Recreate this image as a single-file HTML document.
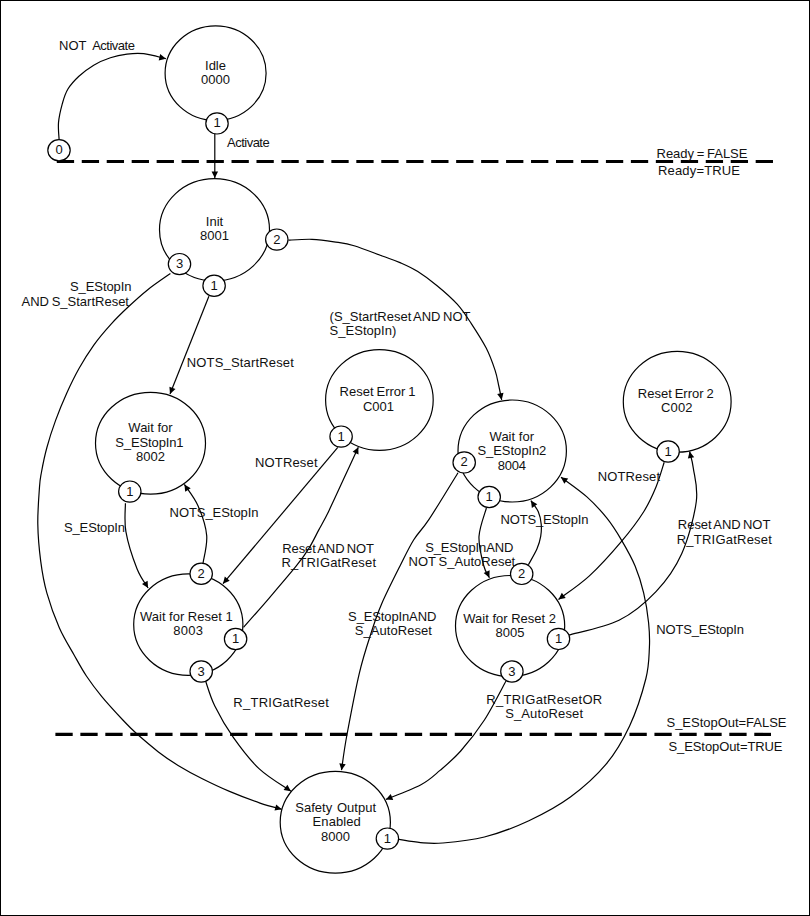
<!DOCTYPE html>
<html><head><meta charset="utf-8"><title>State diagram</title>
<style>
html,body{margin:0;padding:0;background:#fff;}
body{width:810px;height:916px;overflow:hidden;}
svg{display:block;}
text{font-family:"Liberation Sans",sans-serif;font-size:13px;fill:#111;}
.ln{fill:none;stroke:#000;stroke-width:1.2;}
.el{fill:#fff;stroke:#000;stroke-width:1.2;}
.ah{fill:#000;stroke:none;}
.dash{fill:none;stroke:#000;stroke-width:3.2;stroke-dasharray:17.3 7.66;}
</style></head><body>
<svg width="810" height="916" viewBox="0 0 810 916">
<rect x="0.5" y="0.5" width="809" height="915" fill="#fff" stroke="#000" stroke-width="1"/>
<ellipse class="el" cx="215.6" cy="73.2" rx="50.5" ry="47.3"/>
<ellipse class="el" cx="214.5" cy="229.7" rx="55.0" ry="51.1"/>
<ellipse class="el" cx="150.5" cy="443.2" rx="55.0" ry="50.9"/>
<ellipse class="el" cx="379.4" cy="400.0" rx="53.8" ry="50.3"/>
<ellipse class="el" cx="512.2" cy="451.0" rx="54.2" ry="51.0"/>
<ellipse class="el" cx="677.2" cy="401.8" rx="53.9" ry="50.4"/>
<ellipse class="el" cx="188.3" cy="624.6" rx="54.6" ry="50.7"/>
<ellipse class="el" cx="510.1" cy="626.0" rx="54.6" ry="50.5"/>
<ellipse class="el" cx="335.3" cy="822.3" rx="55.1" ry="50.9"/>
<path class="ln" d="M59.1,139.5 C59.0,136.7 58.0,128.5 58.5,122.6 C59.0,116.7 60.7,109.6 62.2,104.1 C63.8,98.5 65.0,93.9 67.8,89.3 C70.6,84.7 74.6,80.3 78.9,76.3 C83.2,72.3 88.5,68.3 93.7,65.2 C99.0,62.1 104.9,59.6 110.4,57.8 C116.0,55.9 121.5,54.8 127.0,54.1 C132.6,53.4 137.2,52.9 143.7,53.7 C150.2,54.5 162.2,57.9 165.9,58.7"/>
<path class="ah" d="M165.9,58.7 L158.7,60.4 L160.2,54.1 Z"/>
<path class="ln" d="M214.8,134.0 L214.8,178.0"/>
<path class="ah" d="M214.8,178.0 L211.6,171.4 L218.1,171.4 Z"/>
<path class="ln" d="M208.9,296.2 L170.0,394.0"/>
<path class="ah" d="M170.0,394.0 L169.4,386.7 L175.5,389.1 Z"/>
<path class="ln" d="M170.4,273.5 C166.7,276.2 155.1,283.9 148.1,289.5 C141.1,295.1 134.6,301.0 128.4,306.8 C122.2,312.6 116.9,317.7 111.1,324.1 C105.3,330.5 99.1,337.7 93.8,345.1 C88.5,352.5 83.5,360.5 79.0,368.5 C74.5,376.5 70.6,384.6 66.7,393.2 C62.8,401.8 58.9,411.3 55.6,420.4 C52.3,429.4 49.2,438.9 46.9,447.5 C44.5,456.1 42.7,465.4 41.5,472.0 C40.3,478.6 40.1,478.3 39.5,487.0 C38.9,495.7 37.6,511.8 37.8,524.1 C38.0,536.5 39.2,549.6 40.7,561.1 C42.2,572.6 43.8,582.1 46.9,593.2 C50.0,604.3 54.8,617.5 59.3,627.8 C63.8,638.1 69.6,647.0 74.1,655.0 C78.6,663.0 81.8,669.1 86.4,676.0 C91.0,682.9 95.4,688.8 101.6,696.3 C107.8,703.8 118.0,714.8 123.8,721.0 C129.6,727.2 130.4,728.1 136.2,733.3 C142.0,738.4 151.4,746.5 158.4,751.9 C165.4,757.2 170.7,760.9 178.1,765.4 C185.5,769.9 194.2,774.7 202.8,779.0 C211.4,783.3 220.0,787.4 229.5,791.4 C239.0,795.4 251.3,800.1 260.0,803.1 C268.7,806.1 278.1,808.3 281.7,809.3"/>
<path class="ah" d="M281.7,809.3 L274.5,810.6 L276.2,804.4 Z"/>
<path class="ln" d="M288.4,240.2 C292.3,240.0 304.4,239.0 312.0,239.3 C319.6,239.6 327.0,240.7 334.0,241.8 C341.0,242.9 346.1,243.3 354.1,245.7 C362.1,248.1 374.6,253.2 382.2,256.0 C389.8,258.8 394.1,260.0 400.0,262.6 C405.9,265.2 411.6,267.6 417.8,271.5 C424.0,275.4 430.5,280.2 437.1,285.7 C443.7,291.1 451.5,297.9 457.2,304.2 C462.9,310.5 466.5,316.3 471.3,323.6 C476.1,330.9 482.2,340.3 486.2,348.1 C490.2,355.9 493.0,364.1 495.1,370.4 C497.2,376.7 497.7,381.1 498.8,386.0 C499.9,390.9 501.2,397.6 501.7,399.9"/>
<path class="ah" d="M501.7,399.9 L497.2,394.1 L503.5,392.8 Z"/>
<path class="ln" d="M125.4,503.3 C125.5,508.0 124.0,520.8 125.9,531.7 C127.8,542.6 133.3,559.4 137.0,568.8 C140.7,578.2 146.2,584.8 148.1,588.0"/>
<path class="ah" d="M148.1,588.0 L142.0,583.9 L147.6,580.7 Z"/>
<path class="ln" d="M203.0,563.3 C203.6,558.7 207.5,545.2 206.7,535.6 C205.9,526.0 201.8,514.4 198.1,505.9 C194.4,497.4 186.7,488.0 184.4,484.4"/>
<path class="ah" d="M184.4,484.4 L190.7,488.2 L185.2,491.7 Z"/>
<path class="ln" d="M337.8,447.4 L223.0,583.7"/>
<path class="ah" d="M223.0,583.7 L224.8,576.6 L229.7,580.7 Z"/>
<path class="ln" d="M243.5,627.4 C247.8,622.5 260.6,608.1 269.4,597.8 C278.2,587.5 289.9,573.9 296.5,565.7 C303.1,557.5 305.2,554.4 308.9,548.4 C312.6,542.4 315.5,536.1 318.8,529.9 C322.1,523.7 324.5,519.8 328.6,511.4 C332.7,503.0 338.6,490.0 343.5,479.3 C348.4,468.6 355.8,452.6 358.3,447.2"/>
<path class="ah" d="M358.3,447.2 L358.5,454.6 L352.6,451.8 Z"/>
<path class="ln" d="M458.0,472.7 C453.2,480.5 436.4,508.2 429.0,519.4 C421.6,530.6 418.4,532.2 413.6,540.0 C408.8,547.8 405.4,555.3 400.0,566.0 C394.6,576.7 386.2,593.3 381.5,604.2 C376.8,615.1 375.3,619.9 371.6,631.4 C367.9,642.9 363.4,656.0 359.3,673.3 C355.2,690.6 349.9,718.9 346.9,735.0 C343.9,751.1 342.4,764.3 341.5,770.2"/>
<path class="ah" d="M341.5,770.2 L339.3,763.2 L345.7,764.2 Z"/>
<path class="ln" d="M205.6,681.0 C207.1,685.2 210.2,696.6 214.8,706.0 C219.4,715.4 225.9,726.9 233.3,737.4 C240.7,747.9 249.7,759.9 259.3,768.9 C268.9,777.9 285.6,787.5 290.9,791.2"/>
<path class="ah" d="M290.9,791.2 L283.6,790.0 L287.4,784.7 Z"/>
<path class="ln" d="M486.4,508.0 C485.2,512.7 479.5,526.9 479.0,536.4 C478.5,545.9 481.8,558.1 483.5,565.0 C485.2,571.9 488.4,575.6 489.4,577.7"/>
<path class="ah" d="M489.4,577.7 L483.7,573.1 L489.6,570.3 Z"/>
<path class="ln" d="M528.4,564.8 C529.8,562.1 535.0,553.5 537.0,548.8 C539.0,544.1 540.0,540.5 540.7,536.4 C541.4,532.3 541.6,528.2 541.2,524.1 C540.8,520.0 540.0,515.6 538.3,511.7 C536.6,507.8 532.1,502.5 530.9,500.6"/>
<path class="ah" d="M530.9,500.6 L537.3,504.3 L531.9,507.9 Z"/>
<path class="ln" d="M664.2,462.3 C662.8,466.4 659.4,478.8 656.0,487.0 C652.6,495.2 649.5,502.6 643.7,511.7 C638.0,520.8 630.5,530.7 621.5,541.4 C612.5,552.1 599.9,566.2 589.4,575.9 C578.9,585.6 563.6,595.5 558.5,599.4"/>
<path class="ah" d="M558.5,599.4 L561.8,592.8 L565.7,598.0 Z"/>
<path class="ln" d="M568.5,635.2 C576.9,632.7 604.4,627.6 619.0,620.3 C633.6,613.0 645.5,602.7 656.0,591.6 C666.5,580.5 675.0,568.7 681.7,553.7 C688.4,538.7 694.4,515.8 696.3,501.5 C698.2,487.2 694.4,476.4 693.3,468.1 C692.2,459.8 690.2,454.3 689.6,451.5"/>
<path class="ah" d="M689.6,451.5 L694.2,457.2 L687.9,458.6 Z"/>
<path class="ln" d="M398.8,839.4 C402.4,839.9 413.2,842.0 420.5,842.6 C427.8,843.2 432.1,843.9 442.7,843.0 C453.3,842.1 470.0,840.7 484.4,837.0 C498.8,833.3 514.6,827.4 528.9,820.7 C543.2,814.0 557.6,806.4 570.4,797.0 C583.2,787.6 596.0,776.2 605.9,764.4 C615.8,752.5 622.9,740.2 629.6,725.9 C636.3,711.6 642.6,691.6 645.9,678.5 C649.2,665.4 648.9,656.8 649.4,647.5 C649.9,638.2 649.5,631.8 648.6,622.8 C647.7,613.8 646.0,602.7 643.7,593.2 C641.5,583.7 638.8,574.9 635.1,566.0 C631.4,557.1 626.2,548.1 621.5,540.1 C616.8,532.1 612.5,525.1 606.7,517.9 C600.9,510.7 594.5,503.7 586.9,496.9 C579.3,490.1 565.3,480.5 561.0,477.2"/>
<path class="ah" d="M561.0,477.2 L568.2,478.6 L564.3,483.8 Z"/>
<path class="ln" d="M506.0,681.0 C502.4,687.5 491.9,708.3 484.4,720.0 C476.8,731.7 468.1,742.6 460.7,751.0 C453.3,759.4 446.7,764.7 440.0,770.4 C433.3,776.1 429.5,780.2 420.5,785.0 C411.5,789.8 391.7,797.0 385.9,799.4"/>
<path class="ah" d="M385.9,799.4 L390.7,793.9 L393.2,799.9 Z"/>
<path class="dash" d="M56.8,161.5 H773.2"/>
<path class="dash" d="M55.4,734.4 H771"/>
<ellipse class="el" cx="59.0" cy="150.3" rx="11.2" ry="10.6"/>
<text x="59.0" y="154.3" text-anchor="middle">0</text>
<ellipse class="el" cx="217.0" cy="123.4" rx="11.2" ry="10.6"/>
<text x="217.0" y="127.4" text-anchor="middle">1</text>
<ellipse class="el" cx="214.1" cy="285.8" rx="11.2" ry="10.6"/>
<text x="214.1" y="289.8" text-anchor="middle">1</text>
<ellipse class="el" cx="276.8" cy="239.6" rx="11.2" ry="10.6"/>
<text x="276.8" y="243.6" text-anchor="middle">2</text>
<ellipse class="el" cx="179.5" cy="264.1" rx="11.2" ry="10.6"/>
<text x="179.5" y="268.1" text-anchor="middle">3</text>
<ellipse class="el" cx="129.8" cy="491.6" rx="11.2" ry="10.6"/>
<text x="129.8" y="495.6" text-anchor="middle">1</text>
<ellipse class="el" cx="341.1" cy="436.6" rx="11.2" ry="10.6"/>
<text x="341.1" y="440.6" text-anchor="middle">1</text>
<ellipse class="el" cx="464.2" cy="462.4" rx="11.2" ry="10.6"/>
<text x="464.2" y="466.4" text-anchor="middle">2</text>
<ellipse class="el" cx="489.2" cy="497.0" rx="11.2" ry="10.6"/>
<text x="489.2" y="501.0" text-anchor="middle">1</text>
<ellipse class="el" cx="668.1" cy="451.5" rx="11.2" ry="10.6"/>
<text x="668.1" y="455.5" text-anchor="middle">1</text>
<ellipse class="el" cx="201.2" cy="573.7" rx="11.2" ry="10.6"/>
<text x="201.2" y="577.7" text-anchor="middle">2</text>
<ellipse class="el" cx="235.6" cy="639.0" rx="11.2" ry="10.6"/>
<text x="235.6" y="643.0" text-anchor="middle">1</text>
<ellipse class="el" cx="201.2" cy="671.5" rx="11.2" ry="10.6"/>
<text x="201.2" y="675.5" text-anchor="middle">3</text>
<ellipse class="el" cx="521.7" cy="573.9" rx="11.2" ry="10.6"/>
<text x="521.7" y="577.9" text-anchor="middle">2</text>
<ellipse class="el" cx="558.5" cy="638.9" rx="11.2" ry="10.6"/>
<text x="558.5" y="642.9" text-anchor="middle">1</text>
<ellipse class="el" cx="511.9" cy="671.5" rx="11.2" ry="10.6"/>
<text x="511.9" y="675.5" text-anchor="middle">3</text>
<ellipse class="el" cx="387.4" cy="838.6" rx="11.2" ry="10.6"/>
<text x="387.4" y="842.6" text-anchor="middle">1</text>
<text x="59.0" y="49.5" text-anchor="start">NOT</text>
<text x="92.2" y="49.5" text-anchor="start" textLength="42.7" lengthAdjust="spacing">Activate</text>
<text x="215.5" y="70.0" text-anchor="middle">Idle</text>
<text x="215.5" y="83.6" text-anchor="middle">0000</text>
<text x="227.0" y="146.5" text-anchor="start" textLength="42.7" lengthAdjust="spacing">Activate</text>
<text x="656.5" y="158.0" text-anchor="start" style="word-spacing:-0.95px">Ready = FALSE</text>
<text x="658.0" y="175.0" text-anchor="start" textLength="82.0" lengthAdjust="spacing">Ready=TRUE</text>
<text x="214.5" y="226.3" text-anchor="middle">Init</text>
<text x="214.5" y="240.3" text-anchor="middle">8001</text>
<text x="70.0" y="291.0" text-anchor="start" textLength="61.5" lengthAdjust="spacing">S_EStopIn</text>
<text x="21.5" y="305.5" text-anchor="start" style="word-spacing:-0.90px">AND S_StartReset</text>
<text x="329.6" y="321.1" text-anchor="start" style="word-spacing:-1.10px">(S_StartReset AND NOT</text>
<text x="329.6" y="335.2" text-anchor="start" textLength="66.7" lengthAdjust="spacing">S_EStopIn)</text>
<text x="186.8" y="366.5" text-anchor="start" textLength="107.0" lengthAdjust="spacing">NOTS_StartReset</text>
<text x="150.5" y="431.6" text-anchor="middle">Wait for</text>
<text x="115.3" y="446.6" text-anchor="start" textLength="68.3" lengthAdjust="spacing">S_EStopIn1</text>
<text x="150.5" y="460.7" text-anchor="middle">8002</text>
<text x="339.6" y="395.6" text-anchor="start" style="word-spacing:-0.65px">Reset Error 1</text>
<text x="363.0" y="411.2" text-anchor="start" textLength="31.0" lengthAdjust="spacing">C001</text>
<text x="255.0" y="466.5" text-anchor="start" textLength="62.5" lengthAdjust="spacing">NOTReset</text>
<text x="489.6" y="441.0" text-anchor="start" style="word-spacing:0.10px">Wait for</text>
<text x="477.4" y="454.8" text-anchor="start" textLength="68.9" lengthAdjust="spacing">S_EStopIn2</text>
<text x="497.8" y="469.6" text-anchor="start" textLength="28.2" lengthAdjust="spacing">8004</text>
<text x="637.8" y="397.8" text-anchor="start" style="word-spacing:-0.70px">Reset Error 2</text>
<text x="661.0" y="411.9" text-anchor="start" textLength="31.6" lengthAdjust="spacing">C002</text>
<text x="597.8" y="481.0" text-anchor="start" textLength="62.2" lengthAdjust="spacing">NOTReset</text>
<text x="64.0" y="531.7" text-anchor="start" textLength="61.0" lengthAdjust="spacing">S_EStopIn</text>
<text x="169.6" y="517.0" text-anchor="start" textLength="88.9" lengthAdjust="spacing">NOTS_EStopIn</text>
<text x="282.2" y="553.0" text-anchor="start" style="word-spacing:-1.3px" textLength="91.8" lengthAdjust="spacing">Reset AND NOT</text>
<text x="281.5" y="566.7" text-anchor="start" textLength="94.5" lengthAdjust="spacing">R_TRIGatReset</text>
<text x="500.4" y="524.0" text-anchor="start" textLength="88.1" lengthAdjust="spacing">NOTS_EStopIn</text>
<text x="425.2" y="551.5" text-anchor="start" textLength="88.1" lengthAdjust="spacing">S_EStopInAND</text>
<text x="408.5" y="566.3" text-anchor="start" style="word-spacing:-0.70px">NOT S_AutoReset</text>
<text x="677.8" y="528.5" text-anchor="start" style="word-spacing:-1.3px" textLength="92.6" lengthAdjust="spacing">Reset AND NOT</text>
<text x="676.7" y="543.8" text-anchor="start" textLength="95.2" lengthAdjust="spacing">R_TRIGatReset</text>
<text x="140.0" y="621.1" text-anchor="start" style="word-spacing:-0.03px">Wait for Reset 1</text>
<text x="173.3" y="634.8" text-anchor="start" textLength="29.7" lengthAdjust="spacing">8003</text>
<text x="463.3" y="623.0" text-anchor="start" style="word-spacing:-0.03px">Wait for Reset 2</text>
<text x="495.6" y="636.7" text-anchor="start" textLength="28.8" lengthAdjust="spacing">8005</text>
<text x="348.1" y="621.1" text-anchor="start" textLength="88.2" lengthAdjust="spacing">S_EStopInAND</text>
<text x="354.8" y="634.8" text-anchor="start" textLength="77.1" lengthAdjust="spacing">S_AutoReset</text>
<text x="656.3" y="634.3" text-anchor="start" textLength="87.7" lengthAdjust="spacing">NOTS_EStopIn</text>
<text x="233.3" y="706.7" text-anchor="start" textLength="95.6" lengthAdjust="spacing">R_TRIGatReset</text>
<text x="486.3" y="703.7" text-anchor="start" textLength="115.9" lengthAdjust="spacing">R_TRIGatResetOR</text>
<text x="505.2" y="718.0" text-anchor="start" textLength="77.8" lengthAdjust="spacing">S_AutoReset</text>
<text x="666.5" y="727.0" text-anchor="start" textLength="120.0" lengthAdjust="spacing">S_EStopOut=FALSE</text>
<text x="668.5" y="750.8" text-anchor="start" textLength="114.0" lengthAdjust="spacing">S_EStopOut=TRUE</text>
<text x="295.3" y="811.5" text-anchor="start" style="word-spacing:1.20px">Safety Output</text>
<text x="312.6" y="825.8" text-anchor="start" textLength="48.1" lengthAdjust="spacing">Enabled</text>
<text x="321.0" y="840.8" text-anchor="start" textLength="29.1" lengthAdjust="spacing">8000</text>
</svg>
</body></html>
